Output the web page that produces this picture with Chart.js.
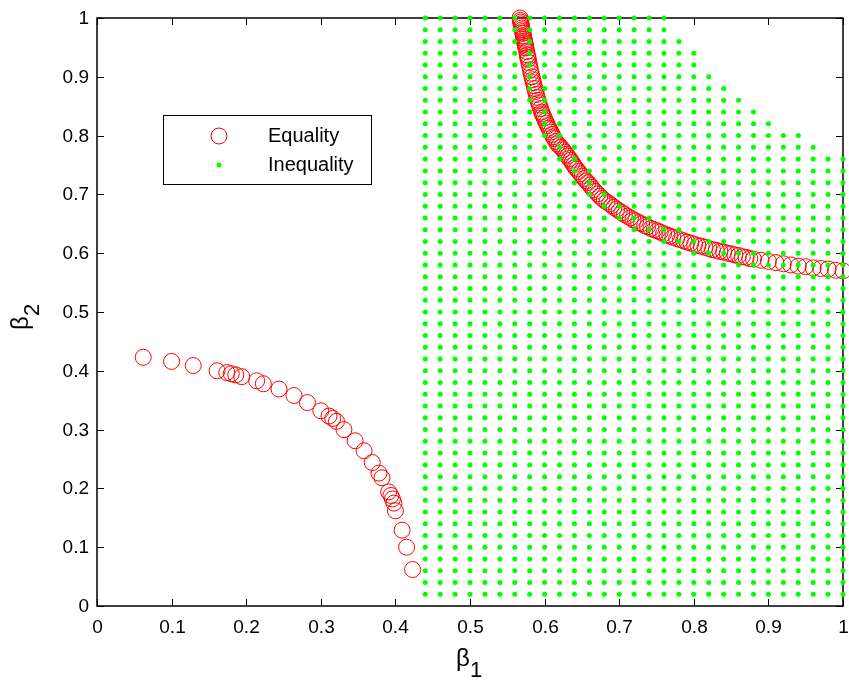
<!DOCTYPE html>
<html>
<head>
<meta charset="utf-8">
<script src="https://cdn.jsdelivr.net/npm/chart.js@4"></script>
<style>
  html, body { margin: 0; padding: 0; background: #fff; }
  #wrap { width: 849px; height: 680px; }
</style>
</head>
<body>
<div id="wrap"><canvas id="myChart" width="849" height="680"></canvas></div>
<script>
// equality curve points (lower branch + upper branch)
var eqX = [0.062,0.100,0.129,0.161,0.174,0.180,0.186,0.194,0.214,0.223,0.244,0.264,0.282,0.300,0.311,0.316,0.321,0.331,0.346,0.358,0.369,0.378,0.382,0.391,0.394,0.396,0.398,0.400,0.409,0.415,0.423,
  0.567,0.5675,0.568,0.5685,0.569,0.5695,0.570,0.5705,0.571,0.5715,0.572,0.5725,0.573,0.5735,0.574,0.5745,0.575,0.576,0.577,0.5775,0.578,0.579,0.580,0.581,0.582,0.583,0.584,0.585,0.586,0.587,0.588,0.589,0.590,0.591,0.592,0.593,0.5945,0.596,0.597,0.598,0.5995,0.601,0.6025,0.604,0.6055,0.607,0.6085,0.610,0.6115,0.613,0.615,0.617,0.6195,0.622,0.6245,0.627,0.629,0.631,0.633,0.635,0.637,0.639,0.641,0.643,0.6455,0.648,0.6505,0.653,0.6555,0.658,0.661,0.663,0.6655,0.668,0.671,0.674,0.677,0.680,0.6835,0.687,0.690,0.693,0.6965,0.700,0.7035,0.707,0.711,0.715,0.7185,0.722,0.726,0.730,0.734,0.738,0.7425,0.747,0.751,0.755,0.7595,0.764,0.768,0.772,0.777,0.782,0.7865,0.791,0.796,0.801,0.8055,0.810,0.815,0.820,0.825,0.830,0.835,0.840,0.845,0.850,0.855,0.860,0.865,0.870,0.875,0.880,0.890,0.900,0.910,0.920,0.930,0.940,0.950,0.960,0.970,0.980,0.990,1.000];
var eqY = [0.423,0.416,0.409,0.400,0.397,0.395,0.393,0.390,0.383,0.378,0.369,0.358,0.346,0.332,0.323,0.319,0.314,0.300,0.281,0.264,0.244,0.226,0.218,0.194,0.188,0.182,0.175,0.162,0.129,0.100,0.062,
  1.000,0.996,0.993,0.990,0.986,0.983,0.980,0.977,0.974,0.970,0.967,0.964,0.961,0.958,0.955,0.952,0.949,0.943,0.937,0.933,0.930,0.924,0.918,0.912,0.906,0.900,0.895,0.890,0.885,0.880,0.875,0.870,0.865,0.860,0.856,0.852,0.846,0.840,0.837,0.834,0.830,0.825,0.821,0.817,0.813,0.810,0.806,0.802,0.798,0.795,0.790,0.786,0.783,0.780,0.776,0.772,0.768,0.765,0.761,0.758,0.754,0.750,0.746,0.743,0.739,0.735,0.731,0.727,0.723,0.720,0.716,0.712,0.708,0.705,0.701,0.697,0.693,0.690,0.687,0.684,0.681,0.678,0.675,0.672,0.669,0.666,0.663,0.660,0.657,0.655,0.652,0.650,0.647,0.645,0.642,0.640,0.638,0.636,0.633,0.631,0.629,0.627,0.625,0.623,0.621,0.619,0.617,0.615,0.613,0.612,0.610,0.608,0.606,0.605,0.603,0.602,0.600,0.599,0.597,0.596,0.594,0.593,0.591,0.590,0.588,0.586,0.584,0.582,0.580,0.578,0.577,0.575,0.574,0.573,0.571,0.570];

// inequality grid: columns, rows, and the right-most column reached in the top rows
var gridX = [0.44,0.46,0.48,0.50,0.52,0.54,0.56,0.58,0.60,0.62,0.64,0.66,0.68,0.70,0.72,0.74,0.76,0.78,0.80,0.82,0.84,0.86,0.88,0.90,0.92,0.94,0.96,0.98,1.00];
var gridY = [0.02,0.04,0.06,0.08,0.10,0.12,0.14,0.16,0.18,0.20,0.22,0.24,0.26,0.28,0.30,0.32,0.34,0.36,0.38,0.40,0.42,0.44,0.46,0.48,0.50,
  0.52,0.54,0.56,0.58,0.60,0.62,0.64,0.66,0.68,0.70,0.72,0.74,0.76,0.78,0.80,0.82,0.84,0.86,0.88,0.90,0.92,0.94,0.96,0.98,1.00];
var topRows  = [0.78,0.80,0.82,0.84,0.86,0.88,0.90,0.92,0.94,0.96,0.98,1.00];
var topRowMaxX = [0.96,0.94,0.90,0.88,0.86,0.84,0.82,0.80,0.80,0.78,0.76,0.76];

var tickVals = [0,0.1,0.2,0.3,0.4,0.5,0.6,0.7,0.8,0.9,1];
var tickLabels = ['0','0.1','0.2','0.3','0.4','0.5','0.6','0.7','0.8','0.9','1'];

var equalityPts = eqX.map(function(x, i){ return {x: x, y: eqY[i]}; });
var inequalityPts = [];
gridY.forEach(function(y){
    var k = topRows.findIndex(function(r){ return Math.abs(r - y) < 1e-6; });
    var maxX = k >= 0 ? topRowMaxX[k] : 1.0;
    gridX.forEach(function(x){
        if (x <= maxX + 1e-6) inequalityPts.push({x: x, y: y});
    });
});

var FONT = '"Liberation Sans", Arial, Helvetica, sans-serif';

var matlabAxes = {
    id: 'matlabAxes',
    beforeDatasetsDraw: function(chart){
        var ctx = chart.ctx, a = chart.chartArea;
        var xs = chart.scales.x, ys = chart.scales.y;
        ctx.save();
        ctx.strokeStyle = '#000';
        ctx.lineWidth = 1.5;
        ctx.strokeRect(a.left, a.top, a.right - a.left, a.bottom - a.top);
        ctx.lineWidth = 1;
        var tl = 7;
        ctx.fillStyle = '#000';
        ctx.font = '19px ' + FONT;
        tickVals.forEach(function(v, i){
            var px = Math.round(xs.getPixelForValue(v)) + 0.5;
            ctx.beginPath();
            ctx.moveTo(px, a.bottom); ctx.lineTo(px, a.bottom - tl);
            ctx.moveTo(px, a.top); ctx.lineTo(px, a.top + tl);
            ctx.stroke();
            ctx.textAlign = 'center';
            ctx.textBaseline = 'middle';
            ctx.fillText(tickLabels[i], px, a.bottom + 22);
            var py = Math.round(ys.getPixelForValue(v)) + 0.5;
            ctx.beginPath();
            ctx.moveTo(a.left, py); ctx.lineTo(a.left + tl, py);
            ctx.moveTo(a.right, py); ctx.lineTo(a.right - tl, py);
            ctx.stroke();
            ctx.textAlign = 'right';
            ctx.fillText(tickLabels[i], a.left - 8, py);
        });
        ctx.restore();
    },
    afterDraw: function(chart){
        var ctx = chart.ctx;
        ctx.save();
        ctx.fillStyle = '#000';
        ctx.textBaseline = 'alphabetic';
        ctx.textAlign = 'left';
        // x axis title: beta_1
        ctx.font = '24px ' + FONT;
        ctx.fillText('\u03b2', 456, 666);
        ctx.font = '22px ' + FONT;
        ctx.fillText('1', 470, 677);
        // y axis title: beta_2 (rotated)
        ctx.translate(28, 330);
        ctx.rotate(-Math.PI / 2);
        ctx.font = '24px ' + FONT;
        ctx.fillText('\u03b2', 0, 0);
        ctx.font = '22px ' + FONT;
        ctx.fillText('2', 14, 11);
        ctx.restore();

        // legend box
        ctx.save();
        ctx.fillStyle = '#fff';
        ctx.fillRect(163, 115, 208, 69);
        ctx.strokeStyle = '#000';
        ctx.lineWidth = 1;
        ctx.strokeRect(163.5, 115.5, 208, 69);
        ctx.beginPath();
        ctx.strokeStyle = '#ff0000';
        ctx.arc(219, 136, 8, 0, Math.PI * 2);
        ctx.stroke();
        ctx.beginPath();
        ctx.fillStyle = '#00ff00';
        ctx.arc(219, 165, 2.5, 0, Math.PI * 2);
        ctx.fill();
        ctx.fillStyle = '#000';
        ctx.font = '20px ' + FONT;
        ctx.textBaseline = 'middle';
        ctx.fillText('Equality', 268, 136);
        ctx.fillText('Inequality', 268, 165);
        ctx.restore();
    }
};

var ctx = document.getElementById('myChart').getContext('2d');
var myChart = new Chart(ctx, {
    type: 'scatter',
    data: {
        datasets: [{
            label: 'Inequality',
            data: inequalityPts,
            pointRadius: 2.5,
            pointBorderWidth: 0,
            backgroundColor: '#00ff00',
            borderColor: '#00ff00',
            clip: false,
            order: 0
        }, {
            label: 'Equality',
            data: equalityPts,
            pointRadius: 8,
            pointBorderWidth: 1,
            backgroundColor: 'rgba(0,0,0,0)',
            borderColor: '#ff0000',
            clip: false,
            order: 1
        }]
    },
    options: {
        responsive: false,
        animation: false,
        devicePixelRatio: 1,
        layout: { autoPadding: false, padding: { top: 18, right: 6, left: 0, bottom: 0 } },
        plugins: { legend: { display: false }, tooltip: { enabled: false } },
        scales: {
            x: {
                type: 'linear', min: 0, max: 1,
                grid: { display: false, drawTicks: false },
                border: { display: false },
                ticks: { display: false },
                afterFit: function(s){ s.height = 74; s.paddingLeft = 0; s.paddingRight = 0; },
                afterBuildTicks: function(s){ s.ticks = tickVals.map(function(v){ return {value: v}; }); }
            },
            y: {
                type: 'linear', min: 0, max: 1,
                grid: { display: false, drawTicks: false },
                border: { display: false },
                ticks: { display: false },
                afterFit: function(s){ s.width = 97; s.paddingTop = 0; s.paddingBottom = 0; },
                afterBuildTicks: function(s){ s.ticks = tickVals.map(function(v){ return {value: v}; }); }
            }
        }
    },
    plugins: [matlabAxes]
});
</script>
</body>
</html>
